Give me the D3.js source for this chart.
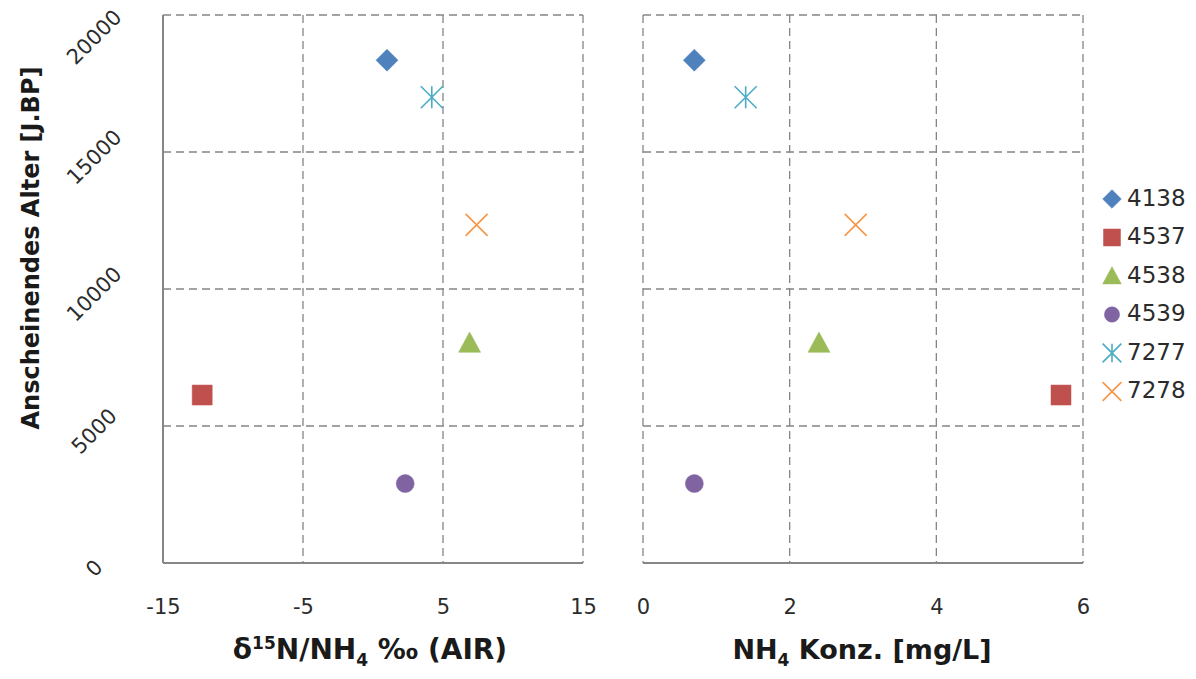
<!DOCTYPE html>
<html><head><meta charset="utf-8">
<script src="https://cdn.jsdelivr.net/npm/d3@7"></script>
<style>
html,body{margin:0;padding:0;background:#fff;}
svg{display:block;font-family:"DejaVu Sans",sans-serif;}
</style></head><body>
<svg id="c" width="1196" height="679"></svg>
<script>
const samples = ["4138","4537","4538","4539","7277","7278"];
const ages = [18350, 6130, 8030, 2900, 17000, 12340];
const d15N = [1.0, -12.2, 6.9, 2.3, 4.2, 7.4];
const nh4 = [0.7, 5.7, 2.4, 0.7, 1.4, 2.9];
const colors = ["#4F81BD","#C0504D","#9BBB59","#8064A2","#4BACC6","#F79646"];
const shapes = ["diamond","square","triangle","circle","asterisk","x"];
const yTicks = [0, 5000, 10000, 15000, 20000];
const xTicksLeft = [-15, -5, 5, 15];
const xTicksRight = [0, 2, 4, 6];

const svg = d3.select("#c");
const plotTop = 15, plotBottom = 563;
const y = d3.scaleLinear().domain([0, 20000]).range([plotBottom, plotTop]);
const xL = d3.scaleLinear().domain([-15, 15]).range([163, 583]);
const xR = d3.scaleLinear().domain([0, 6]).range([643, 1083]);
const gridColor = "#858585";
const textColor = "#2b2b2b";

function symbolPath(shape, k){
  const p = d3.path();
  if(shape==="diamond"){ const r=11*k; p.moveTo(0,-r);p.lineTo(r,0);p.lineTo(0,r);p.lineTo(-r,0);p.closePath(); }
  else if(shape==="square"){ const r=10*k; p.rect(-r,-r,2*r,2*r); }
  else if(shape==="triangle"){ const r=11*k; p.moveTo(0,-r);p.lineTo(r,r*0.85);p.lineTo(-r,r*0.85);p.closePath(); }
  else if(shape==="circle"){ p.arc(0,0,9*k,0,2*Math.PI); }
  else if(shape==="asterisk"){ const r=11*k; p.moveTo(-r,-r);p.lineTo(r,r);p.moveTo(r,-r);p.lineTo(-r,r);p.moveTo(0,-r);p.lineTo(0,r); }
  else if(shape==="x"){ const r=11*k; p.moveTo(-r,-r);p.lineTo(r,r);p.moveTo(r,-r);p.lineTo(-r,r); }
  return p.toString();
}
function drawMarker(g, shape, color, cx, cy, k){
  const stroke = (shape==="asterisk"||shape==="x");
  g.append("path").attr("d", symbolPath(shape, k||1))
   .attr("transform", `translate(${cx},${cy})`)
   .attr("fill", stroke ? "none" : color)
   .attr("stroke", color)
   .attr("stroke-width", stroke ? 1.6 : 0.5);
}

function panel(x, xTicks, xVals, solidLeft){
  const g = svg.append("g");
  const [x0, x1] = x.range();
  yTicks.filter(t=>t>0).forEach(t=>{
    g.append("line").attr("x1",x0).attr("x2",x1).attr("y1",y(t)).attr("y2",y(t))
     .attr("stroke",gridColor).attr("stroke-width",1.3).attr("stroke-dasharray","8,5");
  });
  xTicks.forEach((t,i)=>{
    if(i===0 && solidLeft) return;
    g.append("line").attr("x1",x(t)).attr("x2",x(t)).attr("y1",plotTop).attr("y2",plotBottom)
     .attr("stroke",gridColor).attr("stroke-width",1.3).attr("stroke-dasharray","8,5");
  });
  if(solidLeft){
    g.append("line").attr("x1",x0).attr("x2",x0).attr("y1",plotTop).attr("y2",plotBottom)
     .attr("stroke","#868686").attr("stroke-width",2);
  }
  g.append("line").attr("x1",x0).attr("x2",x1).attr("y1",plotBottom).attr("y2",plotBottom)
   .attr("stroke","#868686").attr("stroke-width",2);
  const ax = d3.axisBottom(x).tickValues(xTicks).tickSize(0).tickPadding(0).tickFormat(d3.format("d"));
  const axg = svg.append("g").attr("transform",`translate(0,${plotBottom+36})`).call(ax);
  axg.select(".domain").remove();
  axg.selectAll("text").attr("font-size",21).attr("fill",textColor).attr("font-family","'DejaVu Sans',sans-serif")
     .text(d=> d<0 ? "-"+Math.abs(d) : d);
  samples.forEach((s,i)=> drawMarker(g, shapes[i], colors[i], x(xVals[i]), y(ages[i])));
}

panel(xL, xTicksLeft, d15N, true);
panel(xR, xTicksRight, nh4, false);

yTicks.forEach(t=>{
  const cy = Math.max(y(t)+6, 38);
  svg.append("text").attr("transform",`translate(95,${cy}) rotate(-45)`)
    .attr("text-anchor","middle").attr("dominant-baseline","middle")
    .attr("font-size",21).attr("fill",textColor).text(t);
});

svg.append("text").attr("transform","translate(32,248) rotate(-90)")
  .attr("text-anchor","middle").attr("dominant-baseline","middle")
  .attr("font-size",24).attr("font-weight","bold").attr("fill","#1a1a1a")
  .text("Anscheinendes Alter [J.BP]");

const t1 = svg.append("text").attr("x",370).attr("y",659).attr("text-anchor","middle")
  .attr("font-size",28).attr("font-weight","bold").attr("fill","#1a1a1a");
t1.append("tspan").text("δ");
t1.append("tspan").attr("font-size",17).attr("dy",-10).text("15");
t1.append("tspan").attr("dy",10).text("N/NH");
t1.append("tspan").attr("font-size",17).attr("dy",7).text("4");
t1.append("tspan").attr("dy",-7).text(" ‰ (AIR)");

const t2 = svg.append("text").attr("x",862).attr("y",659).attr("text-anchor","middle")
  .attr("font-size",27).attr("font-weight","bold").attr("fill","#1a1a1a");
t2.append("tspan").text("NH");
t2.append("tspan").attr("font-size",17).attr("dy",7).text("4");
t2.append("tspan").attr("dy",-7).text(" Konz. [mg/L]");

const leg = svg.append("g");
samples.forEach((s,i)=>{
  const ly = 199 + i*38.5;
  drawMarker(leg, shapes[i], colors[i], 1112, ly, 0.85);
  leg.append("text").attr("x",1127).attr("y",ly).attr("dominant-baseline","middle")
    .attr("font-size",23).attr("fill",textColor).text(s);
});
</script>
</body></html>
